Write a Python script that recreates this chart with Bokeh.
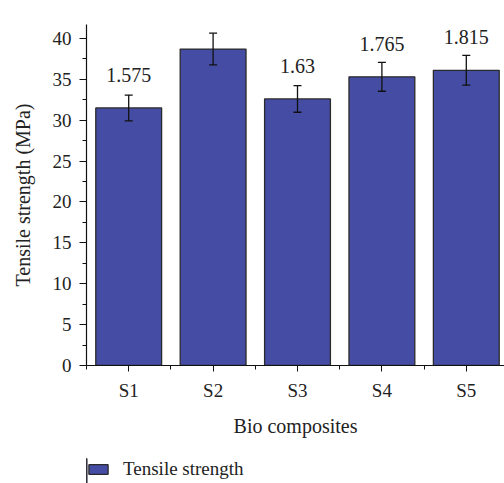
from bokeh.plotting import figure
from bokeh.layouts import column
from bokeh.models import (ColumnDataSource, Range1d, FixedTicker, Whisker, TeeHead,
                          Legend, LegendItem, LabelSet)
from bokeh.embed import file_html
from bokeh.resources import INLINE

categories = ["S1", "S2", "S3", "S4", "S5"]
strength = [31.5, 38.7, 32.6, 35.3, 36.1]
errors = [1.575, 1.94, 1.63, 1.765, 1.815]
error_labels = ["1.575", "1.94", "1.63", "1.765", "1.815"]
y_ticks = [0, 5, 10, 15, 20, 25, 30, 35, 40]
y_minor = [2.5, 7.5, 12.5, 17.5, 22.5, 27.5, 32.5, 37.5]
series_name = "Tensile strength"

FONT = "Liberation Serif"
TXT = "#222222"
BAR = "#444DA3"
EDGE = "#2a2a2a"

xs = [i + 1 for i in range(len(categories))]
src = ColumnDataSource(dict(
    x=xs, top=strength,
    upper=[s + e for s, e in zip(strength, errors)],
    lower=[s - e for s, e in zip(strength, errors)],
    lab=error_labels,
))

p = figure(width=504, height=443, output_backend="svg", toolbar_location=None,
           x_range=Range1d(0.5, 0.5 + 418 / 84.4), y_range=Range1d(0, 41.7),
           min_border_left=86, min_border_right=0, min_border_top=24,
           min_border_bottom=78)
p.outline_line_color = None
p.grid.grid_line_color = None

bars = p.vbar(x="x", top="top", bottom=0, width=0.78, source=src,
              fill_color=BAR, line_color=EDGE, line_width=1.3)

w = Whisker(base="x", upper="upper", lower="lower", source=src, level="overlay",
            line_color="#111111", line_width=1.3,
            upper_head=TeeHead(size=8, line_color="#111111", line_width=1.3),
            lower_head=TeeHead(size=8, line_color="#111111", line_width=1.3))
p.add_layout(w)

labels = LabelSet(x="x", y="top", text="lab", source=src, y_offset=26,
                  text_align="center", text_baseline="alphabetic",
                  text_font=FONT, text_font_size="20px", text_color=TXT)
p.add_layout(labels)

p.xaxis.ticker = FixedTicker(ticks=xs, minor_ticks=[x - 0.5 for x in xs] + [xs[-1] + 0.5])
p.xaxis.major_label_overrides = {x: c for x, c in zip(xs, categories)}
p.xaxis.axis_label = "Bio composites"
p.yaxis.ticker = FixedTicker(ticks=y_ticks, minor_ticks=y_minor)
p.yaxis.axis_label = "Tensile strength (MPa)"

for ax in (p.xaxis, p.yaxis):
    ax.axis_line_color = "#111111"
    ax.axis_line_width = 1.2
    ax.major_tick_line_color = "#111111"
    ax.minor_tick_line_color = "#111111"
    ax.major_tick_in = 0
    ax.minor_tick_in = 0
    ax.major_label_text_font = FONT
    ax.major_label_text_font_size = "19px"
    ax.major_label_text_color = TXT
    ax.axis_label_text_font = FONT
    ax.axis_label_text_font_size = "20px"
    ax.axis_label_text_font_style = "normal"
    ax.axis_label_text_color = TXT

p.xaxis.major_tick_out = 6
p.xaxis.minor_tick_out = 4
p.xaxis.major_label_standoff = 8
p.xaxis.axis_label_standoff = 11
p.yaxis.major_tick_out = 7
p.yaxis.minor_tick_out = 4
p.yaxis.major_label_standoff = 8
p.yaxis.axis_label_standoff = 16

# legend strip below the chart (same series, its bars lie outside this strip's view)
p2 = figure(width=504, height=40, output_backend="svg", toolbar_location=None,
            x_range=Range1d(6, 7), y_range=Range1d(0, 1),
            x_axis_type=None, y_axis_type=None,
            min_border_left=86, min_border_right=0, min_border_top=15,
            min_border_bottom=0)
p2.outline_line_color = None
p2.grid.grid_line_color = None
key = p2.vbar(x="x", top="top", bottom=0, width=0.78, source=src,
              fill_color=BAR, line_color=EDGE, line_width=1.3)
legend = Legend(items=[LegendItem(label=series_name, renderers=[key])],
                location="top_left", border_line_color=None, background_fill_alpha=0,
                padding=0, margin=0, glyph_width=24, glyph_height=12, label_height=22,
                label_standoff=13, label_text_font=FONT, label_text_font_size="19px",
                label_text_color=TXT)
p2.add_layout(legend)

open("out.html", "w").write(file_html(column(p, p2, spacing=0), INLINE))
